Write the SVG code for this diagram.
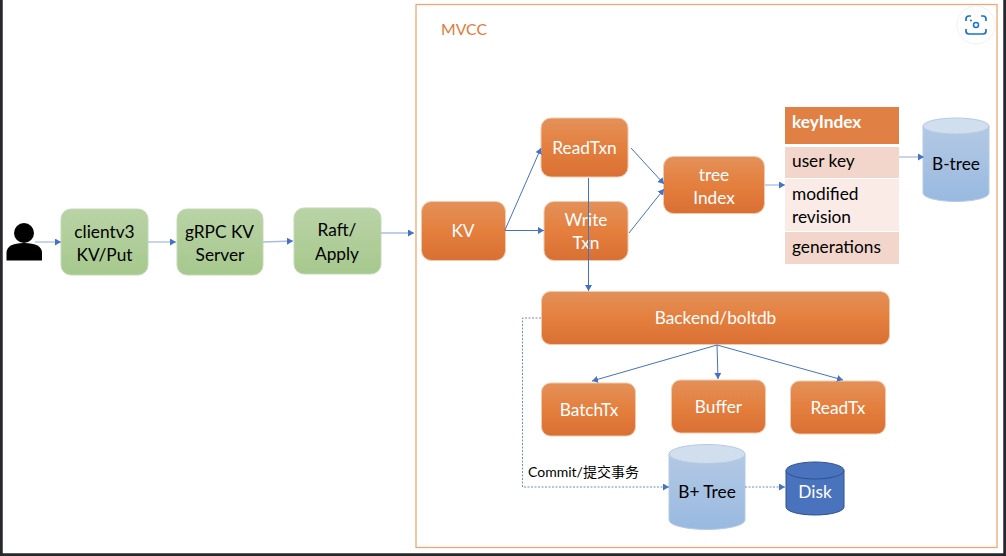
<svg xmlns="http://www.w3.org/2000/svg" width="1006" height="556" viewBox="0 0 1006 556">
<style>
text{font-family:Lato,"Noto Sans CJK SC",sans-serif;font-size:17.3px;text-anchor:middle}
.w{fill:#fff}.k{fill:#000}
.g rect{fill:url(#green);stroke:#c3d9b4;stroke-width:1}
.o rect{fill:url(#orange);stroke:#f3c9ab;stroke-width:1}
.c{fill:none;stroke:#4472c4;stroke-width:1;marker-end:url(#a)}
.l{stroke:#a9bde3;stroke-width:1.3}
.d{stroke-dasharray:2 1.5;stroke-width:.8}
.cy{fill:url(#blue);stroke:#b4cbe6}
.t{fill:#d0deee;stroke:#b4cbe6}
.left{text-anchor:start}
</style>
<defs>
<linearGradient id="green" x1="0" y1="0" x2="0" y2="1"><stop offset="0" stop-color="#b9d3a6"/><stop offset="1" stop-color="#a6c88d"/></linearGradient>
<linearGradient id="orange" x1="0" y1="0" x2="0" y2="1"><stop offset="0" stop-color="#e39159"/><stop offset=".5" stop-color="#e47f3e"/><stop offset="1" stop-color="#d87033"/></linearGradient>
<linearGradient id="blue" x1="0" y1="0" x2="0" y2="1"><stop offset="0" stop-color="#b3c9e4"/><stop offset="1" stop-color="#99b9e0"/></linearGradient>
<marker id="a" markerUnits="userSpaceOnUse" markerWidth="8" markerHeight="8" refX="6" refY="3.5" orient="auto"><path d="M0 0L6 3.500L0 7z" fill="#4472c4"/></marker>
</defs>
<rect width="1006" height="556" fill="#fff"/>
<path d="M1 0V555H1005V0" fill="none" stroke="#26282c" stroke-width="3.5"/>
<rect id="mvcc-frame" x="416" y="4.500" width="581" height="543" fill="none" stroke="#eda878" stroke-width="1.300"/>
<text x="441" y="35" class="left" style="font-size:15.800px" fill="#e07b39">MVCC</text>
<g id="lens"><circle cx="976" cy="25" r="19" fill="#fff" stroke="#f1f1f1"/><path d="M971 16H969Q966 16 966 19V21M981 16H983Q986 16 986 19V21M966 29V31Q966 34 969 34H983Q986 34 986 31V29" fill="none" stroke="#1a73d0" stroke-width="1.700"/><circle cx="976" cy="25" r="2.500" fill="none" stroke="#1a73d0" stroke-width="1.500"/><circle cx="971" cy="20.500" r="1" fill="#1a73d0"/></g>
<g id="user"><circle cx="24" cy="233" r="10" fill="#000"/><path d="M6.500 260.500V253Q6.500 243 24 243Q42 243 42 253V260.500z" fill="#000"/></g>
<g id="clientv3" class="g"><rect x="61" y="209" width="87" height="66" rx="10"/><text class="k" x="104.500" y="238">clientv3</text><text class="k" x="104.500" y="261">KV/Put</text></g>
<g id="grpc" class="g"><rect x="177" y="209" width="86" height="66" rx="10"/><text class="k" x="219.500" y="238">gRPC KV</text><text class="k" x="220" y="261">Server</text></g>
<g id="raft" class="g"><rect x="294" y="208" width="87" height="66" rx="10"/><text class="k" x="337" y="236">Raft/</text><text class="k" x="337" y="260">Apply</text></g>
<g id="kv" class="o"><rect x="421.500" y="201.500" width="84" height="59" rx="10"/><text class="w" x="463" y="237">KV</text></g>
<g id="readtxn" class="o"><rect x="541" y="118" width="87" height="59" rx="10"/><text class="w" x="584.500" y="154">ReadTxn</text></g>
<g id="writetxn" class="o"><rect x="544" y="201.500" width="84" height="59" rx="10"/><text class="w" x="586" y="226">Write</text><text class="w" x="586" y="249">Txn</text></g>
<g id="treeindex" class="o"><rect x="663.500" y="156.500" width="101" height="57" rx="10"/><text class="w" x="714" y="181">tree</text><text class="w" x="714" y="204">Index</text></g>
<g id="keyindex">
<rect x="785" y="107" width="114" height="37" fill="#e08044"/><text x="792" y="128" class="left w" style="font-weight:700">keyIndex</text>
<rect x="785" y="147" width="114" height="31" fill="#f3d6cb"/><text x="792" y="167" class="left k">user key</text>
<rect x="785" y="179" width="114" height="52" fill="#faebe7"/><text x="792" y="200" class="left k">modified</text><text x="792" y="223" class="left k">revision</text>
<rect x="785" y="232" width="114" height="32" fill="#f3d6cb"/><text x="792" y="253" class="left k">generations</text>
</g>
<g id="btree"><path class="cy" d="M923 126V193A33 8.500 0 0 0 989 193V126z"/><ellipse class="t" cx="956" cy="126" rx="33" ry="8"/><text class="k" x="956" y="170">B-tree</text></g>
<g id="backend" class="o"><rect x="541.500" y="291.500" width="348" height="53" rx="9"/><text class="w" x="715.500" y="324">Backend/boltdb</text></g>
<g id="batchtx" class="o"><rect x="541.500" y="383" width="94" height="53" rx="9"/><text class="w" x="589" y="416">BatchTx</text></g>
<g id="buffer" class="o"><rect x="671.500" y="380" width="94" height="53" rx="9"/><text class="w" x="718.500" y="413">Buffer</text></g>
<g id="readtx" class="o"><rect x="790.500" y="381" width="95" height="53" rx="9"/><text class="w" x="838" y="414">ReadTx</text></g>
<text x="528" y="477" class="left k" style="font-size:14px">Commit/提交事务</text>
<g id="bplustree"><path class="cy" d="M669 454V520A38 9.500 0 0 0 745 520V454z"/><ellipse class="t" cx="707" cy="454" rx="38" ry="9.500"/><text class="k" x="707" y="498">B+ Tree</text></g>
<g id="disk"><path d="M786 470.500V507A29 8 0 0 0 844 507V470.500z" fill="#4a73bd" stroke="#2f528f"/><ellipse cx="815" cy="470.500" rx="29" ry="8.500" fill="#4a73bd" stroke="#2f528f"/><text class="w" x="815" y="498">Disk</text></g>
<g id="connectors">
<path class="c l" d="M35 242H61"/>
<path class="c l" d="M148 242H176"/>
<path class="c l" d="M263 242L293 241"/>
<path class="c l" d="M381 233H414"/>
<path class="c" d="M505 230L541 148"/>
<path class="c" d="M505 230.500H544"/>
<path class="c" d="M631 148L664 184"/>
<path class="c" d="M629 233L664 189"/>
<path class="c" d="M588.500 178V291"/>
<path class="c l" d="M765 185H785"/>
<path class="c l" d="M899 157H924"/>
<path class="c" d="M717 345L592 381"/>
<path class="c" d="M717 345L718 379"/>
<path class="c" d="M717 345L843 380"/>
<path class="c d" d="M541 318H522.500V487H669"/>
<path class="c d" d="M745 487H785"/>
</g>
</svg>
